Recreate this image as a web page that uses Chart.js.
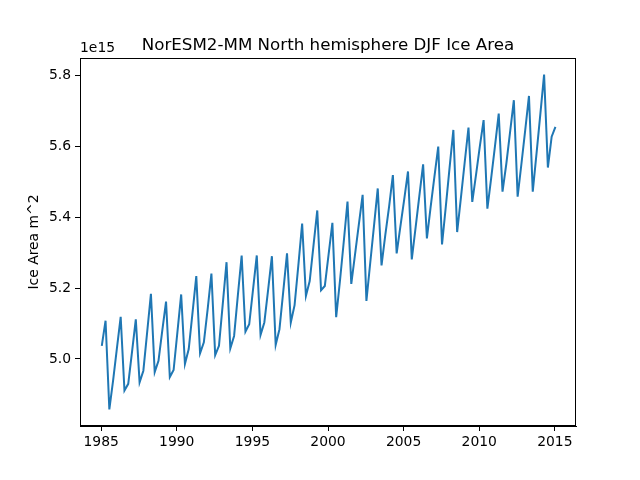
<!DOCTYPE html>
<html>
<head>
<meta charset="utf-8">
<title>NorESM2-MM North hemisphere DJF Ice Area</title>
<script src="https://cdn.jsdelivr.net/npm/chart.js@4.4.1/dist/chart.umd.min.js"></script>
<style>
  html, body { margin: 0; padding: 0; background: #fff; }
</style>
</head>
<body>
<canvas id="iceChart" width="640" height="480"></canvas>
<script>
// samples are 4 per year, first one just after the start of 1985
const startYear = 1985.04;
const stepYears = 0.25;

// ice area in units of 1e15 m^2, one row per year
const iceArea = [
  5.037, 5.108, 4.858, 4.940,   // 1985
  5.030, 5.119, 4.911, 4.930,   // 1986
  5.020, 5.112, 4.934, 4.967,   // 1987
  5.075, 5.184, 4.963, 4.995,   // 1988
  5.080, 5.162, 4.949, 4.969,   // 1989
  5.075, 5.182, 4.986, 5.028,   // 1990
  5.130, 5.234, 5.016, 5.047,   // 1991
  5.140, 5.241, 5.011, 5.037,   // 1992
  5.155, 5.273, 5.030, 5.065,   // 1993
  5.180, 5.292, 5.077, 5.098,   // 1994
  5.195, 5.292, 5.068, 5.103,   // 1995
  5.195, 5.290, 5.040, 5.084,   // 1996
  5.190, 5.298, 5.103, 5.152,   // 1997
  5.265, 5.382, 5.178, 5.220,   // 1998
  5.320, 5.419, 5.194, 5.206,   // 1999
  5.295, 5.384, 5.118, 5.220,   // 2000
  5.330, 5.444, 5.212, 5.296,   // 2001
  5.380, 5.463, 5.164, 5.270,   // 2002
  5.375, 5.481, 5.264, 5.350,   // 2003
  5.430, 5.519, 5.298, 5.375,   // 2004
  5.450, 5.529, 5.281, 5.370,   // 2005
  5.460, 5.549, 5.340, 5.430,   // 2006
  5.515, 5.599, 5.323, 5.430,   // 2007
  5.540, 5.646, 5.358, 5.455,   // 2008
  5.555, 5.653, 5.443, 5.520,   // 2009
  5.600, 5.674, 5.424, 5.510,   // 2010
  5.600, 5.692, 5.472, 5.550,   // 2011
  5.640, 5.730, 5.458, 5.550,   // 2012
  5.645, 5.742, 5.472, 5.580,   // 2013
  5.690, 5.802, 5.540, 5.627,   // 2014
  5.655                         // 2015
];

const xTicks = [1985, 1990, 1995, 2000, 2005, 2010, 2015];
const yTicks = [5.0, 5.2, 5.4, 5.6, 5.8];

const chartTitle = 'NorESM2-MM North hemisphere DJF Ice Area';
const yTitle = 'Ice Area m^2';
const offsetText = '1e15';

(function(){
  const canvas = document.getElementById('iceChart');
  const ctx = canvas.getContext('2d');

  const points = iceArea.map((v, i) => ({ x: startYear + i * stepYears, y: v }));

  Chart.defaults.font.family = "'DejaVu Sans', sans-serif";
  Chart.defaults.font.size = 13.9;
  Chart.defaults.color = '#000';

  // box round the axes, plus the title and the 1e15 offset label
  const framePlugin = {
    id: 'frame',
    afterDraw(chart) {
      const c = chart.ctx;
      const a = chart.chartArea;
      c.save();
      c.strokeStyle = '#000';
      c.lineWidth = 1;
      c.strokeRect(Math.round(a.left) + 0.5, Math.round(a.top) + 0.5,
                   Math.round(a.right - a.left) - 1, Math.round(a.bottom - a.top) - 1);
      c.fillStyle = '#000';
      c.textBaseline = 'alphabetic';
      c.font = "16.7px 'DejaVu Sans', sans-serif";
      c.textAlign = 'center';
      c.fillText(chartTitle, (a.left + a.right) / 2, a.top - 8);
      c.font = "13.9px 'DejaVu Sans', sans-serif";
      c.textAlign = 'left';
      c.fillText(offsetText, a.left, a.top - 6);
      c.restore();
    }
  };

  new Chart(ctx, {
    type: 'line',
    data: {
      datasets: [{
        data: points,
        borderColor: '#1f77b4',
        borderWidth: 2,
        pointRadius: 0,
        tension: 0,
        fill: false
      }]
    },
    options: {
      responsive: false,
      animation: false,
      layout: { padding: { top: 58, right: 64, bottom: 0, left: 0 } },
      plugins: {
        legend: { display: false },
        tooltip: { enabled: false }
      },
      scales: {
        x: {
          type: 'linear',
          min: 1983.6,
          max: 2016.4,
          afterBuildTicks: s => { s.ticks = xTicks.map(v => ({ value: v })); },
          ticks: { padding: 3, maxRotation: 0, autoSkip: false, callback: v => String(v) },
          grid: { drawOnChartArea: false, tickLength: 5, tickColor: '#000' },
          border: { color: '#000' },
          afterFit: s => { s.height = 54; }
        },
        y: {
          min: 4.811,
          max: 5.849,
          afterBuildTicks: s => { s.ticks = yTicks.map(v => ({ value: v })); },
          ticks: { padding: 4, callback: v => v.toFixed(1) },
          grid: { drawOnChartArea: false, tickLength: 5, tickColor: '#000' },
          border: { color: '#000' },
          title: { display: true, text: yTitle, padding: { top: 26, bottom: 0 } },
          afterFit: s => { s.width = 80; }
        }
      }
    },
    plugins: [framePlugin]
  });
})();
</script>
</body>
</html>
